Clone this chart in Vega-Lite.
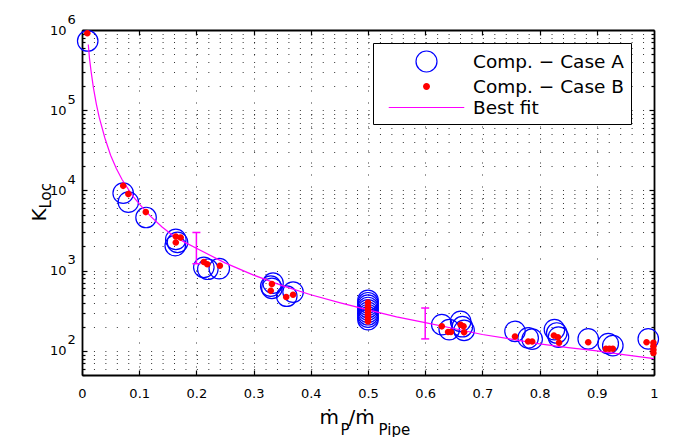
{
  "$schema": "https://vega.github.io/schema/vega-lite/v6.json",
  "width": 572,
  "height": 345,
  "autosize": {"type": "none"},
  "padding": {"left": 82, "top": 30, "right": 26, "bottom": 62},
  "background": "white",
  "config": {
    "font": "DejaVu Sans",
    "view": {"stroke": null},
    "axis": {"labelFont": "DejaVu Sans", "titleFont": "DejaVu Sans", "titleFontWeight": "normal", "labelColor": "black", "titleColor": "black", "tickColor": "black", "domainColor": "black", "domainWidth": 1.8, "tickWidth": 1.2, "labelFlush": false, "labelOverlap": false}
  },
  "datasets": {
    "caseA": [
      {"x": 0.010, "k": 730000},
      {"x": 0.072, "k": 9250}, {"x": 0.081, "k": 7150}, {"x": 0.112, "k": 4600},
      {"x": 0.164, "k": 2450}, {"x": 0.167, "k": 2250}, {"x": 0.163, "k": 2050},
      {"x": 0.213, "k": 1100}, {"x": 0.220, "k": 1040}, {"x": 0.240, "k": 1060},
      {"x": 0.334, "k": 700}, {"x": 0.332, "k": 600}, {"x": 0.330, "k": 640},
      {"x": 0.358, "k": 480}, {"x": 0.369, "k": 540},
      {"x": 0.5, "k": 427}, {"x": 0.5, "k": 398}, {"x": 0.5, "k": 372}, {"x": 0.5, "k": 347}, {"x": 0.5, "k": 324}, {"x": 0.5, "k": 302}, {"x": 0.5, "k": 282}, {"x": 0.5, "k": 263}, {"x": 0.5, "k": 245},
      {"x": 0.629, "k": 212}, {"x": 0.642, "k": 184}, {"x": 0.662, "k": 233}, {"x": 0.665, "k": 200}, {"x": 0.668, "k": 180},
      {"x": 0.757, "k": 175}, {"x": 0.780, "k": 145}, {"x": 0.787, "k": 140},
      {"x": 0.826, "k": 184}, {"x": 0.830, "k": 167}, {"x": 0.833, "k": 148},
      {"x": 0.885, "k": 141}, {"x": 0.920, "k": 123}, {"x": 0.928, "k": 116},
      {"x": 0.990, "k": 141}
    ],
    "caseB": [
      {"x": 0.0093, "k": 910000},
      {"x": 0.072, "k": 11400}, {"x": 0.081, "k": 9000}, {"x": 0.1115, "k": 5370},
      {"x": 0.164, "k": 2670}, {"x": 0.1725, "k": 2580}, {"x": 0.164, "k": 2240},
      {"x": 0.213, "k": 1280}, {"x": 0.219, "k": 1200}, {"x": 0.241, "k": 1150},
      {"x": 0.332, "k": 680}, {"x": 0.330, "k": 560}, {"x": 0.357, "k": 470}, {"x": 0.369, "k": 500},
      {"x": 0.5, "k": 400}, {"x": 0.5, "k": 360}, {"x": 0.5, "k": 330}, {"x": 0.5, "k": 305}, {"x": 0.5, "k": 285}, {"x": 0.5, "k": 265}, {"x": 0.5, "k": 248}, {"x": 0.5, "k": 232},
      {"x": 0.629, "k": 202}, {"x": 0.640, "k": 172}, {"x": 0.645, "k": 172}, {"x": 0.662, "k": 212}, {"x": 0.667, "k": 202}, {"x": 0.668, "k": 170},
      {"x": 0.757, "k": 151}, {"x": 0.780, "k": 131}, {"x": 0.787, "k": 131},
      {"x": 0.825, "k": 155}, {"x": 0.832, "k": 148}, {"x": 0.834, "k": 126},
      {"x": 0.885, "k": 128}, {"x": 0.916, "k": 106}, {"x": 0.922, "k": 106}, {"x": 0.928, "k": 106},
      {"x": 0.987, "k": 128}, {"x": 0.999, "k": 126}, {"x": 0.999, "k": 114}, {"x": 0.999, "k": 103}, {"x": 0.999, "k": 94}
    ],
    "fit": [
      {"x": 0.011, "k": 660000}, {"x": 0.013, "k": 450000}, {"x": 0.016, "k": 300000}, {"x": 0.02, "k": 190000},
      {"x": 0.025, "k": 120000}, {"x": 0.03, "k": 82000}, {"x": 0.04, "k": 45000}, {"x": 0.05, "k": 27500},
      {"x": 0.06, "k": 18800}, {"x": 0.07, "k": 13700}, {"x": 0.08, "k": 10600}, {"x": 0.09, "k": 8300},
      {"x": 0.1, "k": 6800}, {"x": 0.12, "k": 4750}, {"x": 0.14, "k": 3500}, {"x": 0.16, "k": 2700},
      {"x": 0.18, "k": 2250}, {"x": 0.2, "k": 1900}, {"x": 0.25, "k": 1250}, {"x": 0.3, "k": 880},
      {"x": 0.35, "k": 650}, {"x": 0.4, "k": 500}, {"x": 0.45, "k": 400}, {"x": 0.5, "k": 325},
      {"x": 0.55, "k": 265}, {"x": 0.6, "k": 225}, {"x": 0.65, "k": 190}, {"x": 0.7, "k": 160},
      {"x": 0.75, "k": 140}, {"x": 0.8, "k": 122}, {"x": 0.85, "k": 110}, {"x": 0.9, "k": 100},
      {"x": 0.95, "k": 89}, {"x": 1.0, "k": 80}
    ],
    "err": [
      {"x": 0.2, "lo": 1220, "hi": 2990},
      {"x": 0.6, "lo": 141, "hi": 342}
    ]
  },
  "resolve": {"axis": {"x": "independent", "y": "independent"}},
  "layer": [
    {
      "data": {"name": "caseA"},
      "mark": {"type": "point", "filled": false, "size": 420, "strokeWidth": 1.2, "opacity": 1},
      "encoding": {
        "x": {"field": "x", "type": "quantitative", "scale": {"type": "linear", "domain": [0, 1], "nice": false, "zero": false},
          "axis": {"orient": "bottom", "values": [0, 0.1, 0.2, 0.3, 0.4, 0.5, 0.6, 0.7, 0.8, 0.9, 1], "format": "~g", "tickSize": -5, "labelPadding": 17, "labelFontSize": 13, "grid": true, "gridColor": "black", "gridOpacity": 0.8, "gridWidth": 1, "gridDash": [1, 11], "title": null}},
        "y": {"field": "k", "type": "quantitative", "scale": {"type": "log", "domain": [50, 1000000], "nice": false},
          "axis": {"orient": "left", "values": [50, 60, 70, 80, 90, 100, 200, 300, 400, 500, 600, 700, 800, 900, 1000, 2000, 3000, 4000, 5000, 6000, 7000, 8000, 9000, 10000, 20000, 30000, 40000, 50000, 60000, 70000, 80000, 90000, 100000, 200000, 300000, 400000, 500000, 600000, 700000, 800000, 900000, 1000000],
            "labelExpr": "indexof([100, 1000, 10000, 100000, 1000000], datum.value) >= 0 ? '10' : ''",
            "tickSize": {"condition": {"test": "indexof([100, 1000, 10000, 100000, 1000000], datum.value) >= 0", "value": -5}, "value": -3},
            "labelPadding": 21, "labelFontSize": 13, "labelBaseline": "middle", "grid": true, "gridColor": "black", "gridOpacity": 0.8, "gridWidth": 1, "gridDash": [1, 10.44], "title": null}},
        "shape": {"datum": "Comp. − Case A", "type": "nominal",
          "scale": {"domain": ["Comp. − Case A", "Comp. − Case B", "Best fit"], "range": ["circle", "M0.33,0A0.33,0.33,0,1,1,-0.33,0A0.33,0.33,0,1,1,0.33,0Z", "M-3.6,0L3.6,0"]},
          "legend": {"title": null, "orient": "none", "legendX": 291, "legendY": 13, "fillColor": "white", "strokeColor": "black", "padding": 7, "labelFontSize": 18.5, "labelColor": "black", "labelFont": "DejaVu Sans", "symbolSize": 440, "symbolOffset": 35, "labelOffset": 35, "rowPadding": 0, "symbolStrokeWidth": 1.2, "symbolOpacity": 1}},
        "fill": {"datum": "Comp. − Case A", "type": "nominal",
          "scale": {"domain": ["Comp. − Case A", "Comp. − Case B", "Best fit"], "range": ["transparent", "#ff0000", "transparent"]}},
        "stroke": {"datum": "Comp. − Case A", "type": "nominal",
          "scale": {"domain": ["Comp. − Case A", "Comp. − Case B", "Best fit"], "range": ["#0000ff", "transparent", "#ff00ff"]}}
      }
    },
    {
      "data": {"name": "fit"},
      "mark": {"type": "line", "strokeWidth": 1.2},
      "encoding": {
        "x": {"field": "x", "type": "quantitative", "scale": {"type": "linear", "domain": [0, 1], "nice": false, "zero": false},
          "axis": {"orient": "bottom", "title": "ṁ", "titleFontSize": 20, "titleX": 237, "titleY": 48, "titleAlign": "left", "titleBaseline": "alphabetic", "domain": false, "ticks": false, "labels": false, "grid": false}},
        "y": {"field": "k", "type": "quantitative", "scale": {"type": "log", "domain": [50, 1000000], "nice": false},
          "axis": {"orient": "left", "values": [100, 1000, 10000, 100000, 1000000], "labelExpr": "'' + round(log(datum.value) / LN10)", "ticks": false, "domain": false, "grid": false, "labelAlign": "left", "labelBaseline": "middle", "labelPadding": 15, "labelOffset": -11, "labelFontSize": 13, "title": null}},
        "stroke": {"datum": "Best fit", "type": "nominal"}
      }
    },
    {
      "data": {"name": "err"},
      "mark": {"type": "rule", "color": "#ff00ff", "strokeWidth": 1.5},
      "encoding": {
        "x": {"field": "x", "type": "quantitative", "scale": {"type": "linear", "domain": [0, 1], "nice": false, "zero": false},
          "axis": {"orient": "bottom", "title": "P", "titleFontSize": 15, "titleX": 258, "titleY": 59, "titleAlign": "left", "titleBaseline": "alphabetic", "domain": false, "ticks": false, "labels": false, "grid": false}},
        "y": {"field": "lo", "type": "quantitative", "scale": {"type": "log", "domain": [50, 1000000], "nice": false},
          "axis": {"orient": "left", "title": "K", "titleFontSize": 20, "titleAngle": 270, "titleX": -37, "titleY": 191, "titleAlign": "left", "titleBaseline": "alphabetic", "domain": false, "ticks": false, "labels": false, "grid": false}},
        "y2": {"field": "hi"}
      }
    },
    {
      "data": {"name": "err"},
      "mark": {"type": "tick", "orient": "horizontal", "color": "#ff00ff", "size": 8, "thickness": 1.5, "opacity": 1},
      "encoding": {
        "x": {"field": "x", "type": "quantitative", "scale": {"type": "linear", "domain": [0, 1], "nice": false, "zero": false},
          "axis": {"orient": "bottom", "title": "/ṁ", "titleFontSize": 20, "titleX": 266, "titleY": 48, "titleAlign": "left", "titleBaseline": "alphabetic", "domain": false, "ticks": false, "labels": false, "grid": false}},
        "y": {"field": "lo", "type": "quantitative", "scale": {"type": "log", "domain": [50, 1000000], "nice": false},
          "axis": {"orient": "left", "title": "Loc", "titleFontSize": 15, "titleAngle": 270, "titleX": -32, "titleY": 178, "titleAlign": "left", "titleBaseline": "alphabetic", "domain": false, "ticks": false, "labels": false, "grid": false}}
      }
    },
    {
      "data": {"name": "err"},
      "mark": {"type": "tick", "orient": "horizontal", "color": "#ff00ff", "size": 8, "thickness": 1.5, "opacity": 1},
      "encoding": {
        "x": {"field": "x", "type": "quantitative", "scale": {"type": "linear", "domain": [0, 1], "nice": false, "zero": false},
          "axis": {"orient": "bottom", "title": "Pipe", "titleFontSize": 15, "titleX": 296, "titleY": 59, "titleAlign": "left", "titleBaseline": "alphabetic", "domain": false, "ticks": false, "labels": false, "grid": false}},
        "y": {"field": "hi", "type": "quantitative", "scale": {"type": "log", "domain": [50, 1000000], "nice": false}, "axis": null}
      }
    },
    {
      "data": {"name": "caseB"},
      "mark": {"type": "point", "shape": "M0.33,0A0.33,0.33,0,1,1,-0.33,0A0.33,0.33,0,1,1,0.33,0Z", "filled": true, "size": 400, "strokeWidth": 0, "opacity": 1},
      "encoding": {
        "x": {"field": "x", "type": "quantitative", "scale": {"type": "linear", "domain": [0, 1], "nice": false, "zero": false},
          "axis": {"orient": "top", "values": [0.1, 0.2, 0.3, 0.4, 0.5, 0.6, 0.7, 0.8, 0.9], "labels": false, "tickSize": -5, "grid": false, "title": null}},
        "y": {"field": "k", "type": "quantitative", "scale": {"type": "log", "domain": [50, 1000000], "nice": false},
          "axis": {"orient": "right", "values": [50, 60, 70, 80, 90, 100, 200, 300, 400, 500, 600, 700, 800, 900, 1000, 2000, 3000, 4000, 5000, 6000, 7000, 8000, 9000, 10000, 20000, 30000, 40000, 50000, 60000, 70000, 80000, 90000, 100000, 200000, 300000, 400000, 500000, 600000, 700000, 800000, 900000, 1000000],
            "labels": false, "tickSize": {"condition": {"test": "indexof([100, 1000, 10000, 100000, 1000000], datum.value) >= 0", "value": -5}, "value": -3}, "grid": false, "title": null}},
        "fill": {"datum": "Comp. − Case B", "type": "nominal"}
      }
    }
  ]
}
